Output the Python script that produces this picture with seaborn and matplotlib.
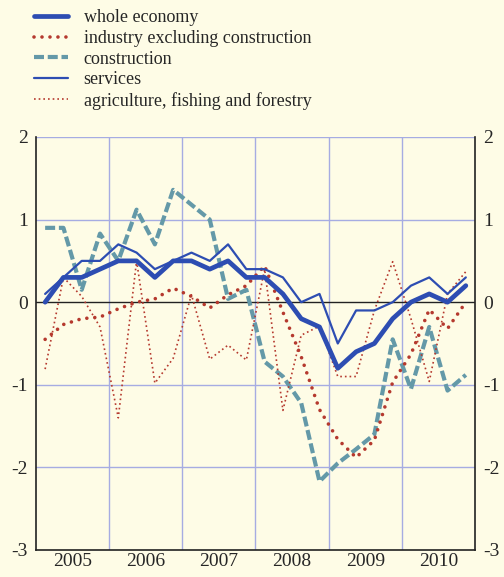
import matplotlib
matplotlib.use("Agg")
import matplotlib.pyplot as plt
import seaborn as sns
import pandas as pd

# Quarterly growth, 2005Q1 - 2010Q4
years = [2005, 2006, 2007, 2008, 2009, 2010]
quarters = [f"{y}Q{q}" for y in years for q in (1, 2, 3, 4)]

whole_economy = [0.0, 0.3, 0.3, 0.4, 0.5, 0.5, 0.3, 0.5, 0.5, 0.4, 0.5, 0.3,
                 0.3, 0.1, -0.2, -0.3, -0.8, -0.6, -0.5, -0.2, 0.0, 0.1, 0.0, 0.2]
industry = [-0.45, -0.27, -0.2, -0.18, -0.08, 0.0, 0.04, 0.17, 0.07, -0.07, 0.09, 0.2,
            0.44, -0.12, -0.66, -1.3, -1.66, -1.88, -1.67, -0.97, -0.63, -0.09, -0.32, 0.0]
construction = [0.9, 0.9, 0.15, 0.83, 0.5, 1.12, 0.7, 1.36, 1.18, 1.0, 0.04, 0.15,
                -0.72, -0.9, -1.22, -2.17, -1.95, -1.78, -1.6, -0.45, -1.05, -0.3, -1.07, -0.88]
services = [0.1, 0.3, 0.5, 0.5, 0.7, 0.6, 0.4, 0.5, 0.6, 0.5, 0.7, 0.4,
            0.4, 0.3, 0.0, 0.1, -0.5, -0.1, -0.1, 0.0, 0.2, 0.3, 0.1, 0.3]
agriculture = [-0.81, 0.3, 0.07, -0.3, -1.4, 0.5, -0.98, -0.68, 0.09, -0.69, -0.52, -0.7,
               0.4, -1.31, -0.4, -0.29, -0.9, -0.9, -0.1, 0.49, -0.2, -0.96, 0.1, 0.37]

labels = ["whole economy", "industry excluding construction", "construction",
          "services", "agriculture, fishing and forestry"]

# position of each quarter on a year axis (middle of the quarter)
xpos = [int(q[:4]) + (int(q[-1]) - 0.5) / 4 for q in quarters]
df = pd.DataFrame({"x": xpos, labels[0]: whole_economy, labels[1]: industry,
                   labels[2]: construction, labels[3]: services, labels[4]: agriculture})

bg = "#FEFCE6"
blue = "#2D4DB2"
red = "#B5392E"
teal = "#6499A8"
grid = "#A6ACE2"

sns.set_style("white")
plt.rcParams["font.family"] = ["Liberation Serif", "DejaVu Serif"]

fig = plt.figure(figsize=(5.04, 5.77), dpi=100, facecolor=bg)
ax = fig.add_axes([0.0714, 0.0468, 0.871, 0.7158], facecolor=bg)

styles = {
    labels[2]: dict(color=teal, lw=3.0, ls=(0, (2.4, 0.9))),
    labels[4]: dict(color=red, lw=1.2, ls=(0, (1, 1.8))),
    labels[1]: dict(color=red, lw=2.6, ls=(0, (0.01, 2.2)), dash_capstyle="round"),
    labels[3]: dict(color=blue, lw=1.6, ls="-"),
    labels[0]: dict(color=blue, lw=3.4, ls="-"),
}
for name in [labels[2], labels[4], labels[1], labels[3], labels[0]]:
    st = styles[name]
    sns.lineplot(data=df, x="x", y=name, ax=ax, color=st["color"], linewidth=st["lw"],
                 linestyle=st["ls"], label=name, legend=False,
                 dash_capstyle=st.get("dash_capstyle", "butt"))

ax.set_xlim(2005, 2011)
ax.set_ylim(-3, 2)

# grid
for y in [-2, -1, 1, 2]:
    ax.axhline(y, color=grid, lw=1.0, zorder=0)
for y in years[1:]:
    ax.axvline(y, color=grid, lw=1.0, zorder=0)
ax.axhline(0, color="#222222", lw=1.0, zorder=1)

ax.set_yticks([-3, -2, -1, 0, 1, 2])
ax.set_yticklabels(["-3", "-2", "-1", "0", "1", "2"])
ax.tick_params(axis="y", length=0, labelsize=14, pad=6, labelright=True, right=False)
ax.set_xticks(years + [2011])
ax.set_xticklabels([])
ax.set_xticks([y + 0.5 for y in years], minor=True)
ax.set_xticklabels([str(y) for y in years], minor=True)
ax.tick_params(axis="x", which="major", length=7, width=1.2, direction="out", color="#222222")
ax.tick_params(axis="x", which="minor", length=0, labelsize=14, pad=2)
ax.set_xlabel("")
ax.set_ylabel("")

for s in ["left", "right", "bottom"]:
    ax.spines[s].set_color("#222222")
    ax.spines[s].set_linewidth(1.2)
ax.spines["top"].set_visible(False)

handles, hl = ax.get_legend_handles_labels()
order = [hl.index(l) for l in labels]
fig.legend([handles[i] for i in order], labels, loc="upper left",
           bbox_to_anchor=(0.035, 1.012), frameon=False, fontsize=13,
           handlelength=1.9, handletextpad=0.85, labelspacing=0.2)

fig.savefig("out.png", dpi=100, facecolor=bg)
